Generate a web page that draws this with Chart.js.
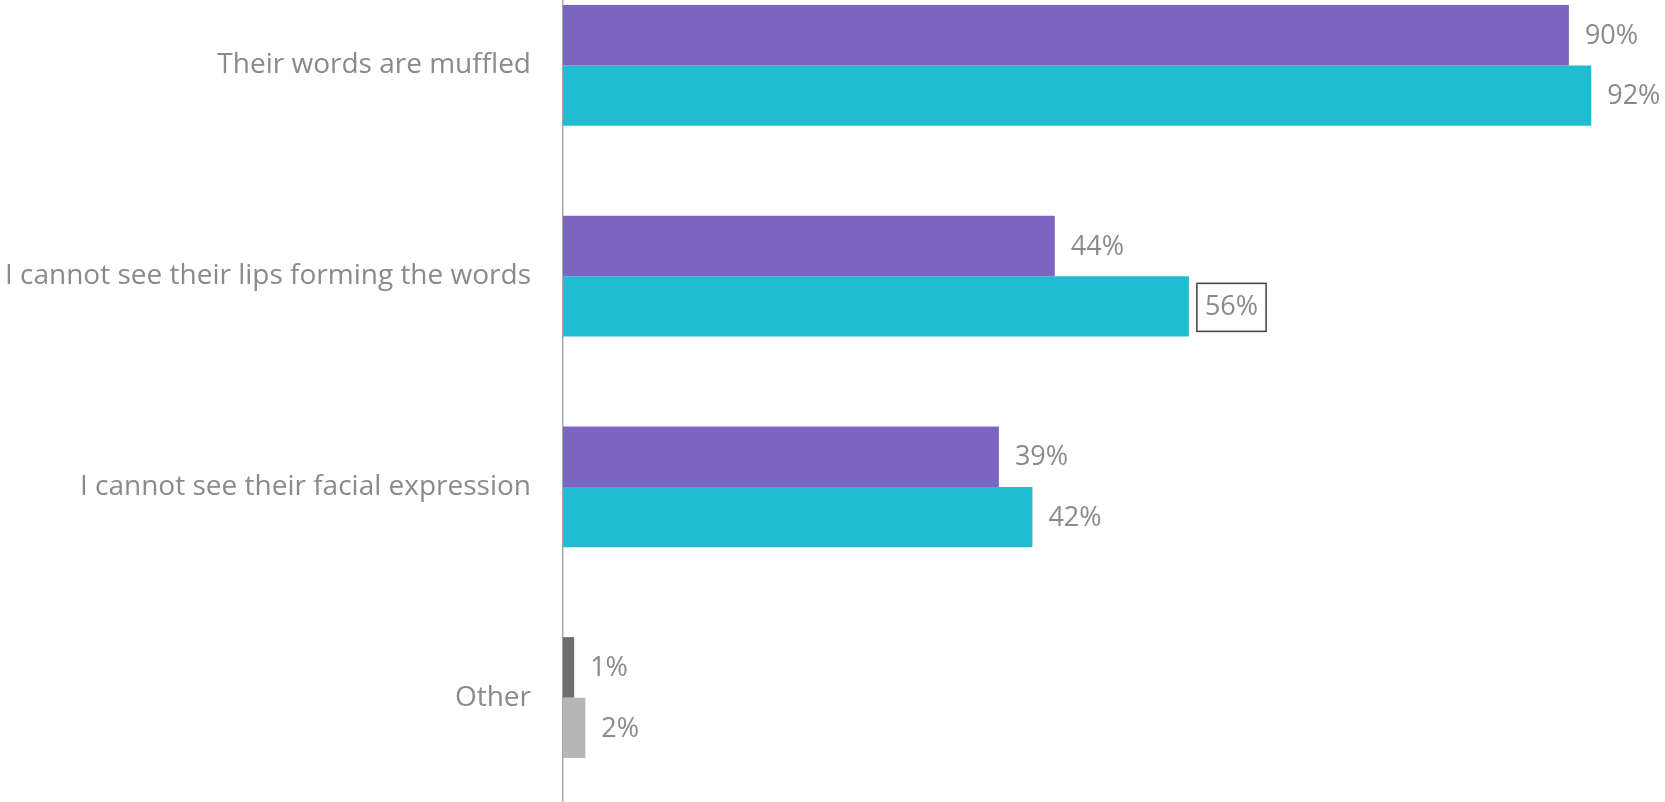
<!DOCTYPE html>
<html>
<head>
<meta charset="utf-8">
<title>Reasons</title>
<script src="https://cdn.jsdelivr.net/npm/chart.js@4.4.0/dist/chart.umd.min.js"></script>
<style>
	html, body { margin: 0; padding: 0; background: #fff; overflow: hidden; }
	#wrap { position: absolute; left: 0; top: -40px; width: 1665px; height: 843px; }
</style>
</head>
<body>
<div id="wrap"><canvas id="myChart" width="1665" height="843"></canvas></div>
<script>
var categories = ["Their words are muffled", "I cannot see their lips forming the words", "I cannot see their facial expression", "Other"];
var series1 = [90, 44, 39, 1];
var series2 = [92, 56, 42, 2];
var colors1 = ["#7d65c2", "#7d65c2", "#7d65c2", "#6e6e6e"];
var colors2 = ["#1ebdd0", "#1ebdd0", "#1ebdd0", "#b6b6b6"];
// label that gets a frame round it: [dataset, index]
var boxed = [1, 1];

var textGray = "#8a8a8a";
var fontFamily = "'Open Sans', sans-serif";

// draws the % next to each bar
var valueLabels = {
	id: 'valueLabels',
	afterDatasetsDraw: function(chart) {
		var ctx = chart.ctx;
		ctx.save();
		ctx.font = "27px " + fontFamily;
		ctx.textBaseline = "middle";
		ctx.textAlign = "left";
		chart.data.datasets.forEach(function(ds, di) {
			var meta = chart.getDatasetMeta(di);
			meta.data.forEach(function(bar, i) {
				var txt = ds.data[i] + "%";
				var x = bar.x + 16;
				var y = bar.y + 1;
				if (di == boxed[0] && i == boxed[1]) {
					var w = ctx.measureText(txt).width;
					ctx.strokeStyle = "#404040";
					ctx.lineWidth = 1.5;
					ctx.strokeRect(x - 8, y - 24, w + 16, 48);
				}
				ctx.fillStyle = textGray;
				ctx.fillText(txt, x, y);
			});
		});
		ctx.restore();
	}
};

var ctx = document.getElementById('myChart').getContext('2d');
var chart = new Chart(ctx, {
	type: 'bar',
	data: {
		labels: categories,
		datasets: [{
			data: series1,
			backgroundColor: colors1,
			categoryPercentage: 0.574,
			barPercentage: 1.0
		}, {
			data: series2,
			backgroundColor: colors2,
			categoryPercentage: 0.574,
			barPercentage: 1.0
		}]
	},
	options: {
		indexAxis: 'y',
		responsive: false,
		animation: false,
		layout: { padding: 0 },
		plugins: {
			legend: { display: false },
			tooltip: { enabled: false }
		},
		scales: {
			x: {
				display: false,
				min: 0,
				max: 98.6
			},
			y: {
				afterFit: function(scale) {
					scale.width = 563;
					// tick padding shouldn't push the plot area down
					scale.paddingTop = 0;
					scale.paddingBottom = 0;
				},
				grid: { display: false, drawTicks: false },
				border: { display: true, color: "#a8a8a8", width: 1.5 },
				ticks: {
					padding: 32,
					color: textGray,
					font: { family: fontFamily, size: 28 }
				}
			}
		}
	},
	plugins: [valueLabels]
});
</script>
</body>
</html>
